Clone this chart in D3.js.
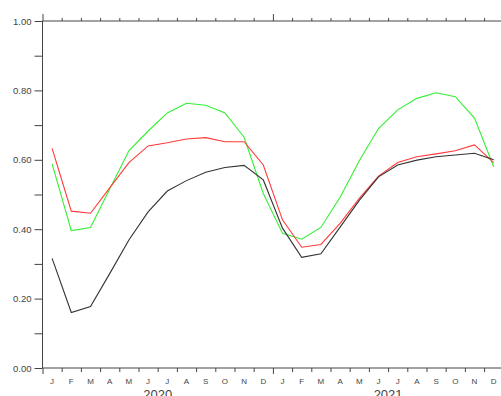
<!doctype html>
<html lang="en">
<head>
<meta charset="UTF-8">
<title>chart</title>
<style>
    body { margin: 0; background: #fff; }
    #chart path.series { fill: none; stroke-width: 1.1; }
    #chart .axis path, #chart .axis line { stroke: #444; }
    #chart text { fill: #444; font-family: "Liberation Sans", Arial, sans-serif; }
</style>
</head>
<body>
<svg id="chart" width="501" height="396"></svg>
<script src="https://cdn.jsdelivr.net/npm/d3@7"></script>
<script>
    var months = ['J','F','M','A','M','J','J','A','S','O','N','D',
                  'J','F','M','A','M','J','J','A','S','O','N','D']
    var years = ['2020', '2021']

    var black = [0.316, 0.160, 0.177, 0.272, 0.369, 0.450, 0.510, 0.540, 0.564, 0.578, 0.584, 0.542,
                 0.403, 0.319, 0.329, 0.406, 0.483, 0.551, 0.585, 0.599, 0.609, 0.614, 0.619, 0.600]
    var red   = [0.633, 0.452, 0.446, 0.519, 0.592, 0.640, 0.649, 0.660, 0.664, 0.652, 0.652, 0.585,
                 0.427, 0.348, 0.356, 0.417, 0.489, 0.553, 0.592, 0.609, 0.617, 0.626, 0.643, 0.592]
    var green = [0.588, 0.396, 0.405, 0.516, 0.626, 0.683, 0.735, 0.763, 0.757, 0.735, 0.665, 0.503,
                 0.388, 0.371, 0.405, 0.492, 0.597, 0.690, 0.744, 0.777, 0.793, 0.782, 0.720, 0.580]

    var plotL = 42.5, plotR = 503.3, plotT = 21, plotB = 368

    var x = d3.scaleLinear().domain([0, 24]).range([plotL, plotR])
    var y = d3.scaleLinear().domain([0, 1]).range([plotB, plotT])

    var svg = d3.select('#chart')

    // left axis, labelled every 0.2, minor ticks every 0.1
    var yAxis = svg.append('g').attr('class', 'axis')
        .attr('transform', 'translate(' + plotL + ',0)')
        .call(d3.axisLeft(y).tickValues(d3.range(0, 1.0001, 0.1)).tickSize(8).tickPadding(3)
            .tickFormat(function(d) {
                var r = Math.round(d * 10)
                return r % 2 === 0 ? d3.format('.2f')(d) : ''
            }))
    yAxis.select('.domain').attr('d', 'M0,' + plotT + 'V' + plotB)
    yAxis.selectAll('text').style('font-size', '9.5px')

    // top axis
    var topAxis = svg.append('g').attr('class', 'axis')
        .attr('transform', 'translate(0,' + plotT + ')')
        .call(d3.axisTop(x).tickValues(d3.range(0, 25)).tickSize(3).tickFormat(''))
    topAxis.select('.domain').attr('d', 'M' + plotL + ',0H' + plotR)
    topAxis.selectAll('.tick line').attr('y2', function(d) { return d % 12 === 0 ? -7 : -3 })

    // bottom axis
    var botAxis = svg.append('g').attr('class', 'axis')
        .attr('transform', 'translate(0,' + plotB + ')')
        .call(d3.axisBottom(x).tickValues(d3.range(0, 25)).tickSize(4).tickFormat(''))
    botAxis.select('.domain').attr('d', 'M' + plotL + ',0H' + plotR)
    botAxis.selectAll('.tick line').attr('y2', function(d) { return d % 12 === 0 ? 6 : 4 })

    svg.append('g').selectAll('text').data(months).enter().append('text')
        .attr('x', function(d, i) { return x(i + 0.5) })
        .attr('y', 383.5)
        .attr('text-anchor', 'middle')
        .style('font-size', '8px')
        .text(function(d) { return d })

    svg.append('g').selectAll('text').data(years).enter().append('text')
        .attr('x', function(d, i) { return x(i * 12 + 6) })
        .attr('y', 398.5)
        .attr('text-anchor', 'middle')
        .style('font-size', '13px')
        .text(function(d) { return d })

    var line = d3.line()
        .x(function(d, i) { return x(i + 0.5) })
        .y(function(d) { return y(d) })

    var series = [
        { values: green, color: '#33f033' },
        { values: red, color: '#ff3a3a' },
        { values: black, color: '#333' }
    ]

    svg.append('g').selectAll('path').data(series).enter().append('path')
        .attr('class', 'series')
        .attr('stroke', function(d) { return d.color })
        .attr('d', function(d) { return line(d.values) })
</script>
</body>
</html>
